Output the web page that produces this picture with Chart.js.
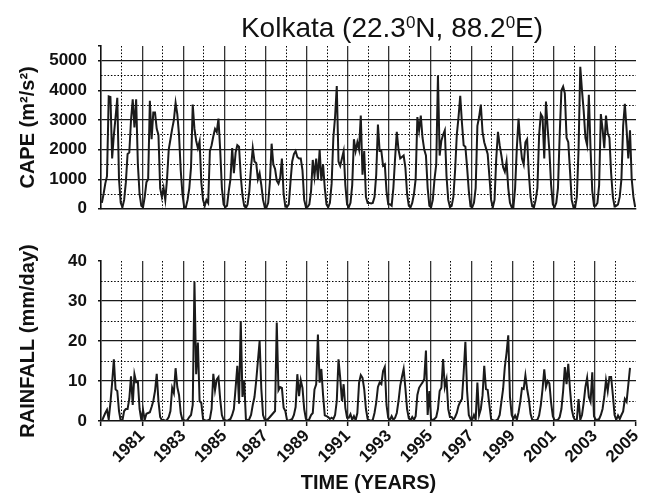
<!DOCTYPE html>
<html><head><meta charset="utf-8">
<script src="https://cdn.jsdelivr.net/npm/chart.js@4.4.0/dist/chart.umd.min.js"></script>
<style>
html,body{margin:0;padding:0;background:#fff;}
#wrap{position:relative;width:651px;height:495px;overflow:hidden;}
canvas{position:absolute;left:0;}
#c1{top:0;}
#c2{top:230px;}
</style></head><body>
<div id="wrap"><canvas id="c1" width="651" height="230"></canvas><canvas id="c2" width="651" height="265"></canvas></div>
<script>
// ---------------- DATA ----------------
const startYear = 1979;           // first month = Jan 1979, monthly values
// CAPE (m^2/s^2), monthly, Jan 1979 - Dec 2004
const capeValues = [
  200, 500, 850, 1100, 3800, 3780, 1700, 2500, 3100, 3750, 1000, 200,   // 1979
  50, 300, 900, 1850, 1900, 3000, 3700, 2750, 3700, 1500, 500, 100,     // 1980
  50, 400, 900, 1000, 3650, 2350, 3250, 3250, 2700, 2500, 700, 400,     // 1981
  700, 300, 1000, 2000, 2350, 2700, 3000, 3580, 3200, 2500, 1300, 500,  // 1982
  50, 50, 300, 700, 1400, 3520, 2700, 2300, 2050, 2280, 900, 300,       // 1983
  100, 300, 200, 1950, 2150, 2450, 2700, 2600, 3050, 2000, 700, 150,    // 1984
  50, 100, 600, 1000, 2050, 1200, 1900, 2150, 2100, 1100, 450, 100,     // 1985
  30, 150, 600, 1400, 2050, 1600, 1550, 1000, 1200, 800, 300, 60,       // 1986
  50, 200, 900, 2200, 1500, 1350, 950, 850, 1050, 1700, 500, 70,        // 1987
  60, 150, 900, 1600, 1850, 1950, 1750, 1700, 1700, 1300, 300, 60,      // 1988
  70, 150, 600, 1650, 1100, 1700, 1000, 2000, 950, 1500, 700, 150,      // 1989
  50, 200, 850, 2400, 3100, 4150, 1600, 1450, 1700, 1950, 800, 150,     // 1990
  50, 200, 800, 2350, 1950, 2250, 2000, 3150, 1150, 1950, 400, 200,     // 1991
  200, 180, 200, 400, 1150, 2850, 1950, 1950, 1450, 1500, 600, 150,     // 1992
  150, 100, 700, 1700, 2600, 2000, 1700, 1750, 1800, 1400, 500, 100,    // 1993
  50, 200, 500, 1000, 3100, 2650, 3150, 2400, 2000, 1800, 700, 100,     // 1994
  50, 300, 1000, 1500, 4500, 1800, 2300, 2500, 2650, 1100, 300, 60,     // 1995
  100, 400, 1300, 2500, 3100, 3820, 2900, 2150, 2100, 1400, 600, 80,    // 1996
  50, 200, 700, 2800, 3100, 3520, 2600, 2250, 2050, 1850, 1100, 300,    // 1997
  50, 300, 1700, 2600, 2150, 1800, 1400, 1250, 1600, 700, 200, 50,      // 1998
  50, 700, 2050, 3050, 2250, 1700, 1500, 2250, 2350, 1200, 400, 80,     // 1999
  50, 300, 700, 2500, 3200, 3100, 1700, 3620, 2700, 1950, 800, 150,     // 2000
  50, 200, 700, 2500, 4000, 4130, 3900, 2400, 2250, 1300, 300, 60,      // 2001
  50, 400, 2000, 4800, 4000, 3300, 2400, 2150, 3850, 2000, 600, 100,    // 2002
  100, 200, 800, 3200, 2700, 2050, 3150, 2550, 2400, 1200, 400, 80,     // 2003
  100, 150, 400, 1000, 2800, 3550, 2700, 1700, 2650, 1000, 400, 60      // 2004
];
// Rainfall (mm/day), monthly, Jan 1979 - Sep 2004
const rainValues = [
  0, 1, 2, 2.8, 0.4, 4.6, 9.6, 15.4, 7.9, 7.5, 2.5, 0,          // 1979
  0.2, 2.5, 3, 3, 5.5, 11.2, 4, 11.7, 9.7, 9.8, 3, 0.3,         // 1980
  2.8, 0.3, 1.8, 2, 2.2, 3.5, 5, 7.5, 11.8, 5, 1, 0.2,          // 1981
  0.3, 0, 0.3, 1, 2.5, 8.3, 7, 13.2, 8.5, 6.5, 2, 0.3,          // 1982
  0.2, 0, 0.3, 1, 1.5, 4, 34.8, 11.7, 19.6, 5, 4.5, 0.5,        // 1983
  0.2, 0, 0.2, 0.5, 3, 11.8, 7.7, 10.4, 11, 5.5, 1.5, 0.3,      // 1984
  0.2, 0, 0.3, 0.5, 1.5, 3, 8.3, 13.8, 4.3, 25, 6, 10,          // 1985
  0.5, 0.2, 0.5, 1.5, 4, 6, 10, 15, 20, 8, 1.5, 0.3,            // 1986
  0.3, 0.5, 1, 1.5, 2, 2.5, 24.6, 7.7, 8.5, 8.3, 3.3, 2.5,      // 1987
  0.2, 0.1, 0.3, 0.5, 1.5, 3.5, 11.7, 6.2, 10.2, 8.3, 3, 0.5,   // 1988
  0.2, 0.5, 1.5, 2, 7.9, 9.2, 21.6, 9.6, 13, 6.5, 1.4, 1.2,     // 1989
  1, 0.5, 0.8, 0.5, 1.5, 5, 15.4, 10.8, 5, 9.2, 3.3, 0.8,       // 1990
  0.8, 1.7, 0.3, 1.2, 0.2, 2, 9.6, 11.5, 10.8, 8, 3, 0.5,       // 1991
  0.2, 0, 0.3, 2, 4.6, 8.5, 9.6, 9.2, 12.5, 13.5, 4, 0.8,       // 1992
  0.2, 1.2, 0.3, 0.8, 2, 5, 8.8, 11, 13, 8.3, 3, 0.7,           // 1993
  0.2, 1, 0.3, 1.2, 6.5, 8.3, 9, 9.6, 10.5, 17.6, 1.5, 7.5,     // 1994
  0.2, 0.3, 0.5, 1, 3, 7.5, 8.3, 15.5, 8.5, 10.4, 3, 1,         // 1995
  1, 0.3, 1, 2, 3.8, 4.8, 5.5, 12, 19.8, 7.5, 1.5, 0.5,         // 1996
  0.3, 1.5, 0.3, 9.6, 1.5, 3, 6.4, 13.8, 8, 7.8, 4, 0.5,        // 1997
  0.2, 0.1, 0.2, 0.5, 1.5, 4.8, 8, 13.5, 17, 21.4, 6, 1.5,      // 1998
  0.5, 1.4, 0.3, 2.2, 4.8, 8.2, 8, 11.4, 8, 5.5, 1.8, 0.3,      // 1999
  0.2, 0.2, 0.3, 1.4, 4, 8, 12.9, 8.5, 10, 9.4, 4.5, 1.2,       // 2000
  0.2, 0.2, 0.3, 1, 3, 7.5, 13.5, 9.2, 14.3, 8, 3, 1,           // 2001
  0.2, 0.3, 5.5, 0.3, 1.5, 4.6, 8.5, 10.8, 6, 4.8, 12.2, 1.2,   // 2002
  0.3, 0.3, 0.5, 1.5, 3, 6, 10.2, 7.5, 11, 11, 6.5, 1.5,        // 2003
  0.3, 1.4, 0.5, 1.5, 2.4, 5.5, 4.8, 9, 13.3                    // 2004
];
// axis ticks and labels
const majorYears = [1979, 1981, 1983, 1985, 1987, 1989, 1991, 1993, 1995, 1997, 1999, 2001, 2003, 2005];
const yearLabels = ['', '1981', '1983', '1985', '1987', '1989', '1991', '1993', '1995', '1997', '1999', '2001', '2003', '2005'];
const minorYears = [1980, 1982, 1984, 1986, 1988, 1990, 1992, 1994, 1996, 1998, 2000, 2002, 2004];
const capeTicks = [0, 1000, 2000, 3000, 4000, 5000, 5500];
const capeLabels = ['0', '1000', '2000', '3000', '4000', '5000', ''];
const capeMinor = [500, 1500, 2500, 3500, 4500];
const rainTicks = [0, 10, 20, 30, 40];
const rainLabels = ['0', '10', '20', '30', '40'];
const rainMinor = [5, 15, 25, 35];
const titleParts = [['Kolkata (22.3', false], ['0', true], ['N, 88.2', false], ['0', true], ['E)', false]];
const capeTitle = 'CAPE (m\u00B2/s\u00B2)';
const rainTitle = 'RAINFALL (mm/day)';
const timeTitle = 'TIME (YEARS)';

// ---------------- CHART ----------------
const FONT = "'Liberation Sans', Arial, Helvetica, sans-serif";
Chart.defaults.font.family = FONT;
Chart.defaults.color = '#111';

function toPoints(vals) {
  return vals.map((v, i) => ({ x: startYear + (i + 0.5) / 12, y: v }));
}
const TRANSPARENT = 'rgba(0,0,0,0)';
const DOT = [1.5, 1.8];

function majorX(showLabels, h) {
  return {
    type: 'linear', position: 'bottom', min: 1979, max: 2005,
    afterBuildTicks: s => { s.ticks = majorYears.map(v => ({ value: v })); },
    afterFit: s => { s.height = h; },
    ticks: {
      display: showLabels, autoSkip: false, maxRotation: 45, minRotation: 45,
      padding: 0, color: '#111',
      font: { size: 17, weight: 'bold' },
      callback: (v, i) => yearLabels[i]
    },
    grid: {
      color: c => (c.tick && (c.tick.value === 1979 || c.tick.value === 2005)) ? TRANSPARENT : '#333',
      lineWidth: 1.3, drawTicks: showLabels, tickLength: 5, tickColor: '#111', tickWidth: 1.5
    },
    border: { display: true, color: '#111', width: 1.6 },
    title: showLabels ? { display: true, text: timeTitle, font: { size: 20, weight: 'bold', lineHeight: 1.2 }, padding: { top: 0, bottom: 0 }, color: '#111' } : { display: false }
  };
}
function minorX() {
  return {
    type: 'linear', position: 'bottom', min: 1979, max: 2005,
    afterBuildTicks: s => { s.ticks = minorYears.map(v => ({ value: v })); },
    afterFit: s => { s.height = 0; },
    ticks: { display: false },
    grid: { color: '#000', lineWidth: 1, drawTicks: false },
    border: { display: false, dash: DOT }
  };
}
function majorY(ticks, labels, max, titleText) {
  return {
    type: 'linear', position: 'left', min: 0, max: max,
    afterBuildTicks: s => { s.ticks = ticks.map(v => ({ value: v })); },
    afterFit: s => { s.width = 101; },
    ticks: { padding: 11, color: '#111', font: { size: 17, weight: 'bold' }, callback: (v, i) => labels[i] },
    grid: {
      color: c => (c.tick && (c.tick.value === 0 || c.tick.value === max)) ? TRANSPARENT : '#1a1a1a',
      lineWidth: 1.3, drawTicks: true, tickLength: 3, tickColor: '#111', tickWidth: 1.5
    },
    border: { display: true, color: '#111', width: 1.6 },
    title: { display: true, text: titleText, color: '#111', font: { size: 20, weight: 'bold', lineHeight: 1.2 }, padding: { top: 16, bottom: 0 } }
  };
}
function minorY(ticks, max) {
  return {
    type: 'linear', position: 'left', min: 0, max: max,
    afterBuildTicks: s => { s.ticks = ticks.map(v => ({ value: v })); },
    afterFit: s => { s.width = 0; },
    ticks: { display: false },
    grid: { color: '#000', lineWidth: 1, drawTicks: false },
    border: { display: false, dash: DOT }
  };
}
const lineStyle = { borderColor: '#1a1a1a', borderWidth: 2, pointRadius: 0, tension: 0, fill: false };

const titlePlugin = {
  id: 'mainTitle',
  afterDraw(chart) {
    const ctx = chart.ctx;
    const big = '28px ' + FONT, small = '17px ' + FONT;
    ctx.save();
    ctx.fillStyle = '#111';
    ctx.textBaseline = 'alphabetic';
    ctx.textAlign = 'left';
    let total = 0;
    titleParts.forEach(([t, sup]) => { ctx.font = sup ? small : big; total += ctx.measureText(t).width; });
    let x = 392 - total / 2;
    titleParts.forEach(([t, sup]) => {
      ctx.font = sup ? small : big;
      ctx.fillText(t, x, sup ? 28 : 37);
      x += ctx.measureText(t).width;
    });
    ctx.restore();
  }
};

const common = {
  responsive: false, animation: false, devicePixelRatio: 1,
  plugins: { legend: { display: false }, tooltip: { enabled: false } }
};

new Chart(document.getElementById('c1'), {
  type: 'line',
  data: { datasets: [Object.assign({ data: toPoints(capeValues), xAxisID: 'x', yAxisID: 'y' }, lineStyle)] },
  options: Object.assign({}, common, {
    layout: { padding: { top: 46, right: 15, left: 0, bottom: 0 } },
    scales: {
      x: majorX(false, 17),
      x2: minorX(),
      y: majorY(capeTicks, capeLabels, 5500, capeTitle),
      y2: minorY(capeMinor, 5500)
    }
  }),
  plugins: [titlePlugin]
});

new Chart(document.getElementById('c2'), {
  type: 'line',
  data: { datasets: [Object.assign({ data: toPoints(rainValues), xAxisID: 'x', yAxisID: 'y' }, lineStyle)] },
  options: Object.assign({}, common, {
    layout: { padding: { top: 31, right: 15, left: 0, bottom: 0 } },
    scales: {
      x: majorX(true, 74),
      x2: minorX(),
      y: majorY(rainTicks, rainLabels, 40, rainTitle),
      y2: minorY(rainMinor, 40)
    }
  })
});
</script>
</body></html>
